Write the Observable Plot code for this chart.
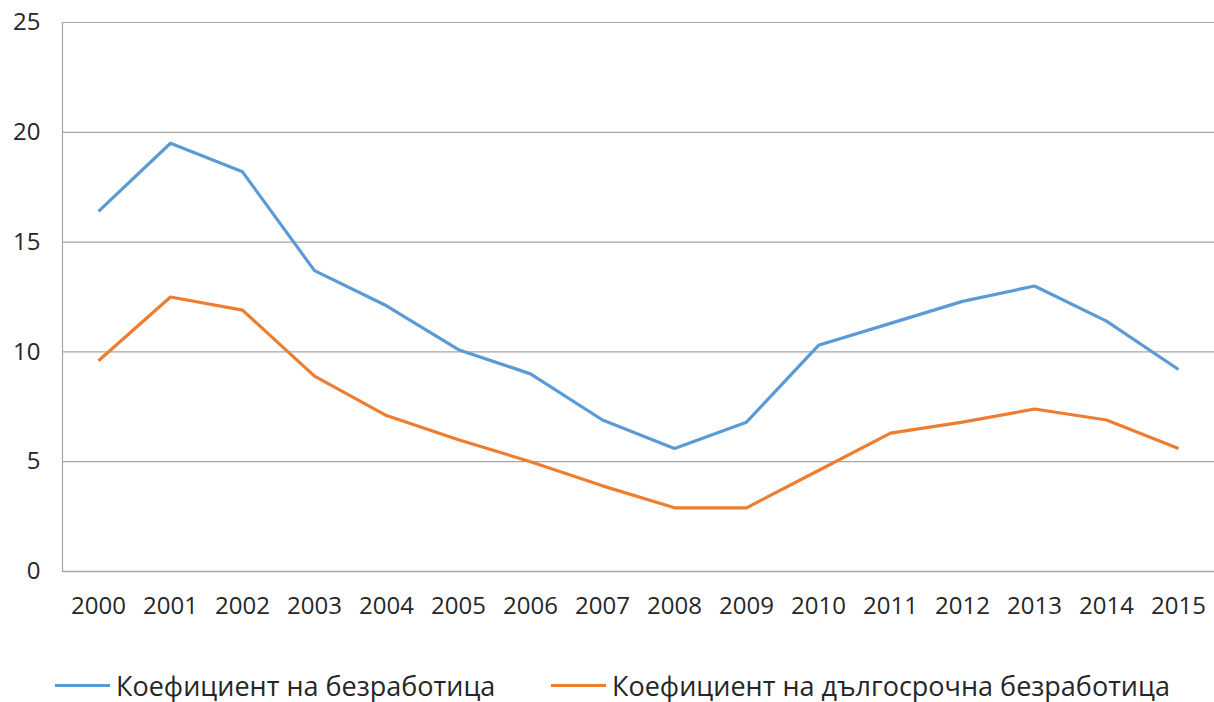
<!DOCTYPE html>
<html>
<head>
<meta charset="utf-8">
<script src="https://cdn.jsdelivr.net/npm/d3@7"></script>
<script src="https://cdn.jsdelivr.net/npm/@observablehq/plot@0.6"></script>
<style>
  html, body { margin: 0; padding: 0; background: #fff; }
  #chart { position: relative; width: 1214px; height: 702px; font-family: "Open Sans", sans-serif; }
  #legend { position: absolute; left: 0; top: 667px; width: 1214px; height: 36px; font-size: 27px; color: #262626; }
  .item { position: absolute; top: 0; display: flex; align-items: center; height: 36px; white-space: nowrap; }
  .swatch { display: inline-block; width: 55px; height: 3px; margin-right: 6px; }
</style>
</head>
<body>
<div id="chart"></div>
<script>
const years = ["2000","2001","2002","2003","2004","2005","2006","2007","2008","2009","2010","2011","2012","2013","2014","2015"];
const unemployment = [16.4, 19.5, 18.2, 13.7, 12.1, 10.1, 9.0, 6.9, 5.6, 6.8, 10.3, 11.3, 12.3, 13.0, 11.4, 9.2];
const longTerm = [9.6, 12.5, 11.9, 8.9, 7.1, 6.0, 5.0, 3.9, 2.9, 2.9, 4.6, 6.3, 6.8, 7.4, 6.9, 5.6];
const seriesNames = ["Коефициент на безработица", "Коефициент на дългосрочна безработица"];
const seriesColors = ["#5B9BD5", "#ED7D31"];
const yTicks = [0, 5, 10, 15, 20, 25];

const rows = [];
years.forEach((y, i) => {
  rows.push({year: y, value: unemployment[i], series: seriesNames[0]});
  rows.push({year: y, value: longTerm[i], series: seriesNames[1]});
});

const plot = Plot.plot({
  width: 1214,
  height: 650,
  marginLeft: 62,
  marginRight: 0,
  marginTop: 22,
  marginBottom: 79,
  style: {fontFamily: "Open Sans, sans-serif", fontSize: "24px", color: "#262626", background: "#fff"},
  x: {type: "point", domain: years, padding: 0.5, label: null, tickSize: 0, tickPadding: 25},
  y: {domain: [0, 25], ticks: yTicks, label: null, tickSize: 0, tickPadding: 22},
  color: {domain: seriesNames, range: seriesColors},
  marks: [
    Plot.ruleY(yTicks.filter(d => d > 0), {stroke: "#a6a6a6", strokeWidth: 1.2}),
    Plot.frame({anchor: "left", stroke: "#a6a6a6", strokeWidth: 1.2}),
    Plot.ruleY([0], {stroke: "#a6a6a6", strokeWidth: 1.5}),
    Plot.line(rows, {x: "year", y: "value", z: "series", stroke: "series", strokeWidth: 3.2, strokeLinejoin: "miter", strokeLinecap: "butt"})
  ]
});
document.getElementById("chart").appendChild(plot);

const legend = document.createElement("div");
legend.id = "legend";
const lefts = [55, 551];
seriesNames.forEach((name, i) => {
  const item = document.createElement("div");
  item.className = "item";
  item.style.left = lefts[i] + "px";
  const sw = document.createElement("span");
  sw.className = "swatch";
  sw.style.background = seriesColors[i];
  const label = document.createElement("span");
  label.textContent = name;
  item.appendChild(sw);
  item.appendChild(label);
  legend.appendChild(item);
});
document.getElementById("chart").appendChild(legend);
</script>
</body>
</html>
